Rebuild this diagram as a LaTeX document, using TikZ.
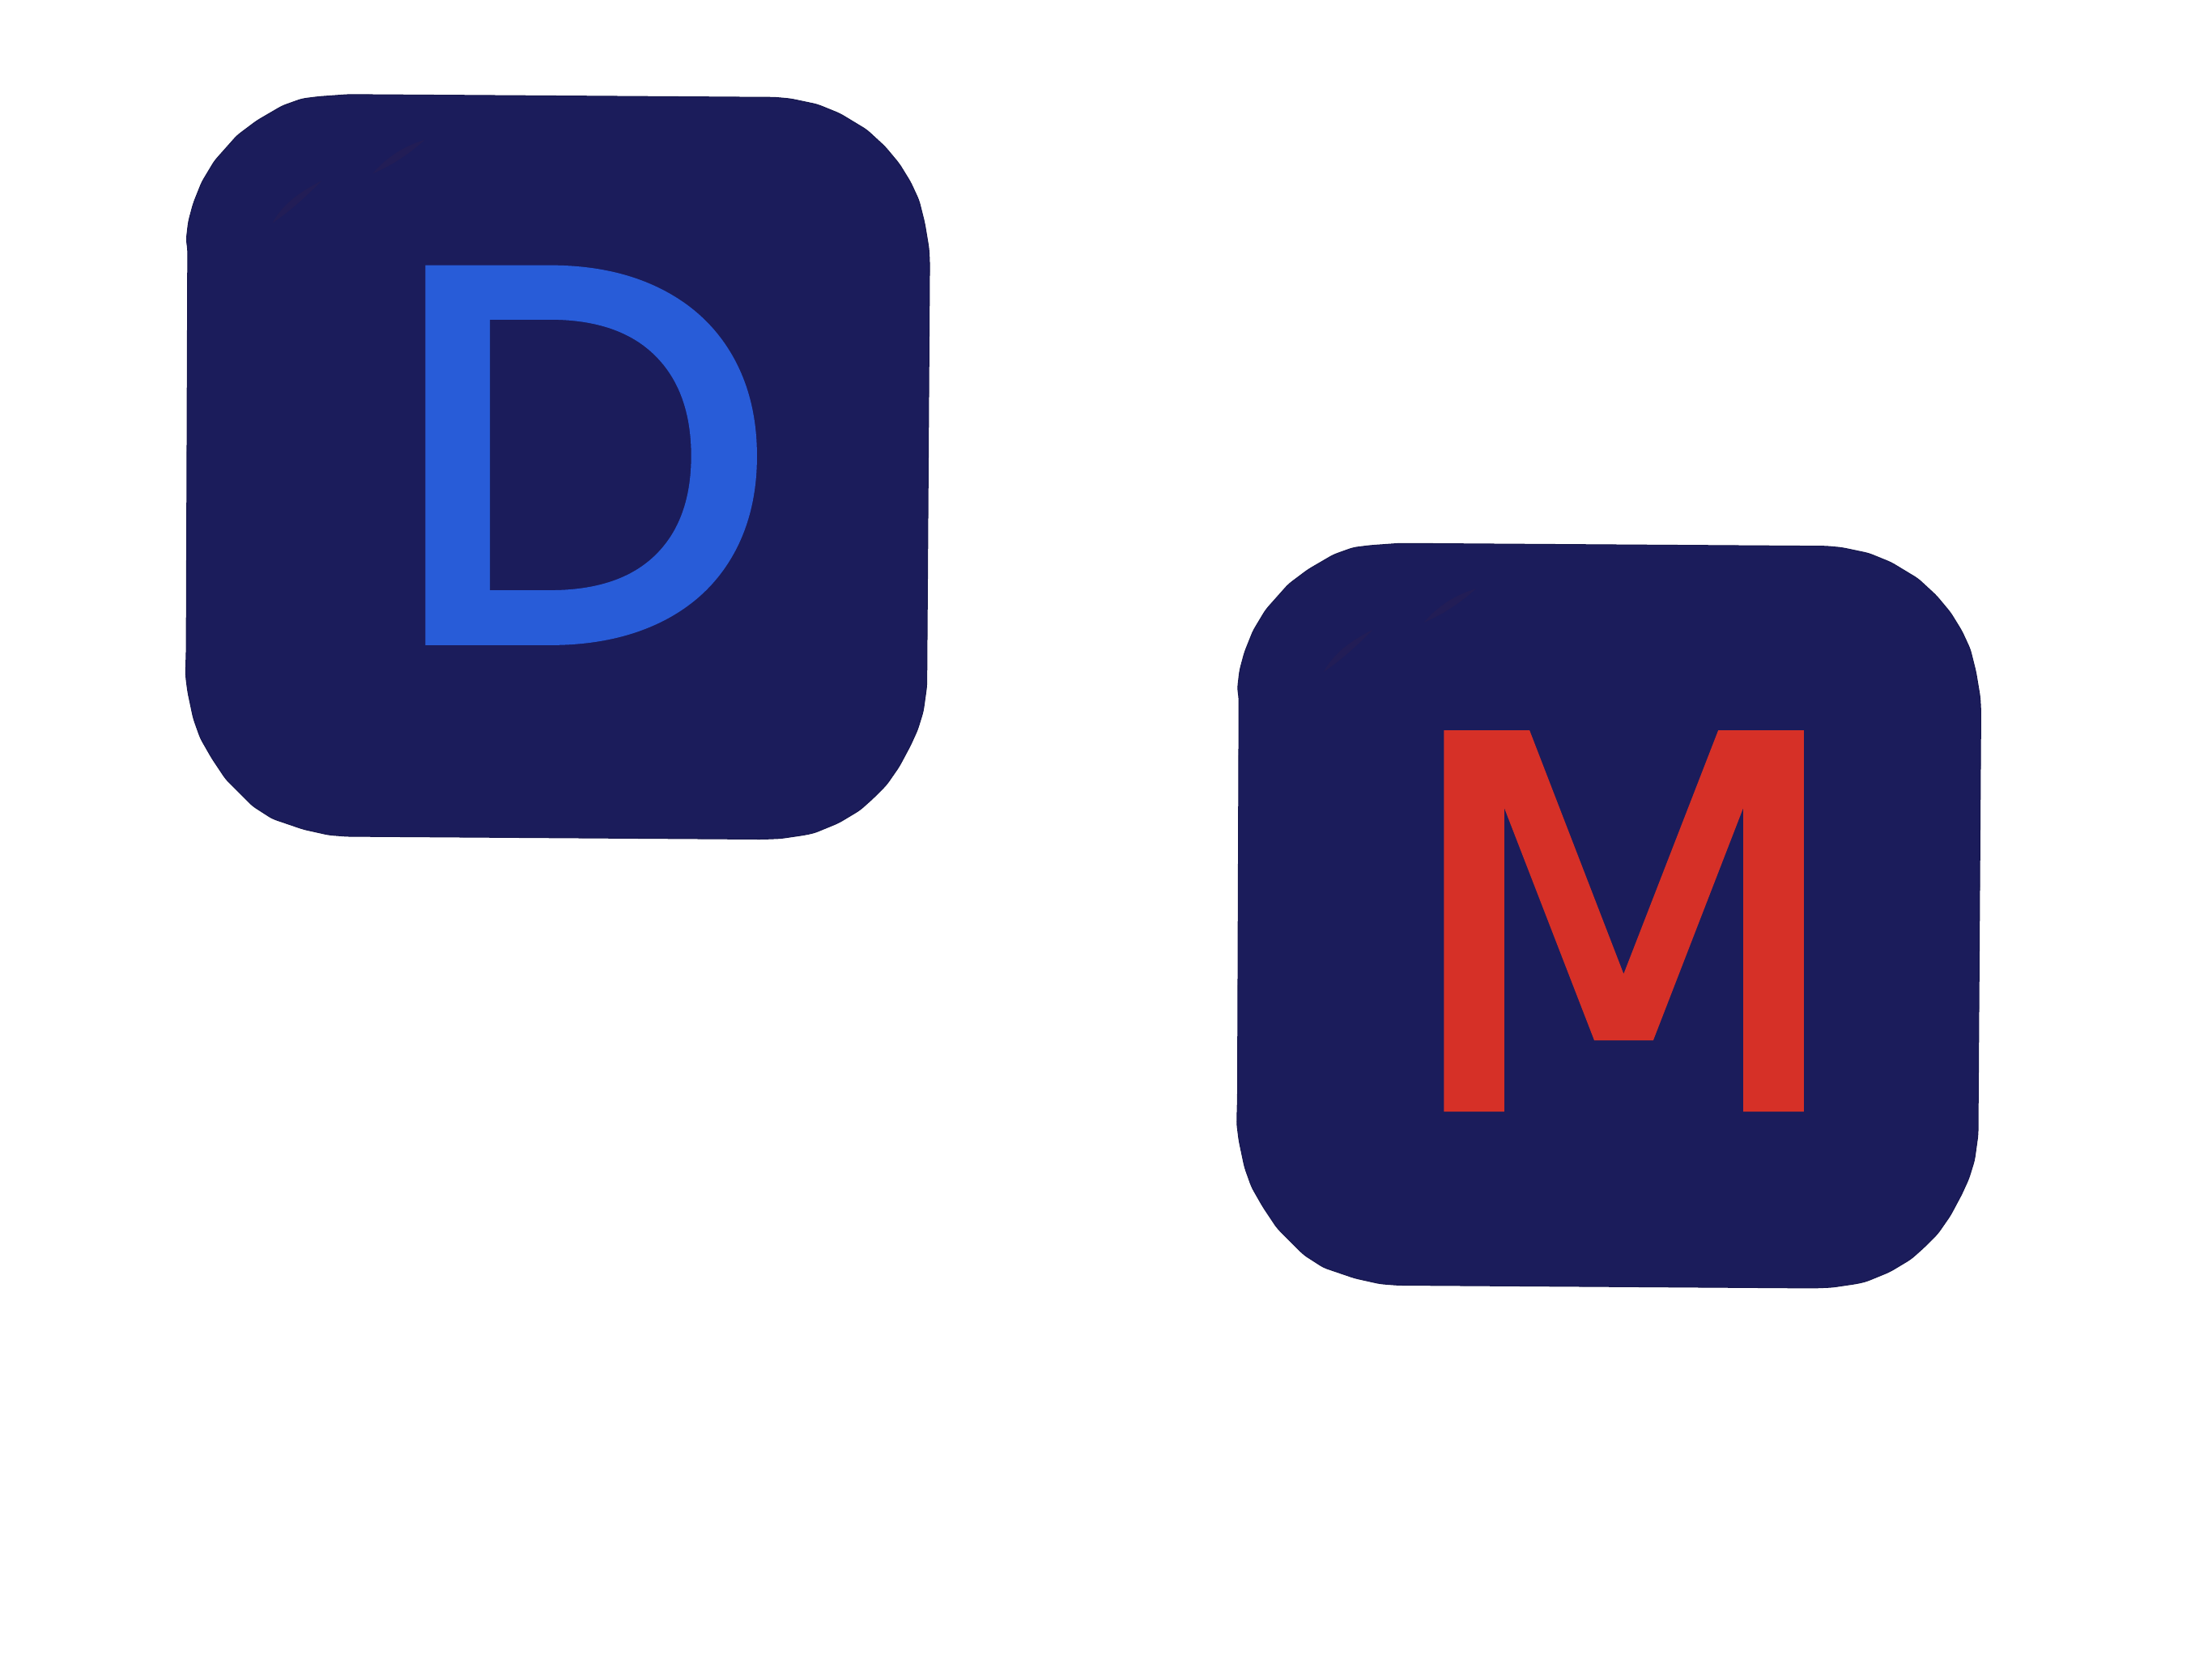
\documentclass[tikz,border=0pt]{standalone}
\usepackage{fontspec}
\newfontfamily\dfont[FakeBold=3,FakeStretch=1.03]{Poppins}
\newfontfamily\mfont[FakeBold=2,FakeStretch=1.03]{DejaVu Sans}
\definecolor{tilebg}{HTML}{1B1C5B}
\definecolor{tilemark}{HTML}{221D56}
\definecolor{dblue}{HTML}{285CD8}
\definecolor{mred}{HTML}{D63027}
\tikzset{
  tile/.style={fill=tilebg,draw=tilebg!85!black,line width=0.3pt,line join=round,rounded corners=1.5pt},
  glyph/.style={inner sep=0pt,outer sep=0pt,anchor=base west},
  streak/.style={fill=tilemark,draw=none}
}
\newcommand{\tileoutline}{(247,67) -- (549,69) -- (560,70) -- (579,74) -- (595,80.5) -- (614,92) -- (627,104) -- (637,116) -- (645,129) -- (651,142) -- (655,158) -- (658,176) -- (658.5,186) -- (656.5,486) -- (654,504) -- (650,517) -- (645,528) -- (637,543) -- (628,556) -- (618,566) -- (609,574) -- (594,583) -- (577,590) -- (570,591.5) -- (553,594) -- (540,594.5) -- (246,592.5) -- (233,591.5) -- (215,587.5) -- (193,580) -- (179,571) -- (160,552) -- (150,537) -- (142,523) -- (137,509) -- (133,490) -- (131.5,478) -- (132,460) -- (133,176) -- (132,170) -- (133.5,157) -- (137,144) -- (143,129) -- (152,114) -- (168,96) -- (182,85.5) -- (200,75) -- (214,70) -- (226,68.5) -- cycle}
\newcommand{\tilestreak}{(264,123) .. controls (275,110) and (288,103) .. (301,99) .. controls (290,109) and (278,117) .. (264,123) -- cycle (193,158) .. controls (200,145) and (212,136) .. (228,128) .. controls (216,140) and (205,150) .. (193,158) -- cycle}
\begin{document}
\begin{tikzpicture}[x=0.017435cm,y=-0.017435cm]
\useasboundingbox (0,0) rectangle (1567,1174.6);
\fill[white] (0,0) rectangle (1567,1174.6);
\begin{scope}
  \path[tile] \tileoutline;
  \path[streak] \tilestreak;
\end{scope}
\begin{scope}[shift={(744.7,318)}]
  \path[tile] \tileoutline;
  \path[streak] \tilestreak;
\end{scope}
\node[glyph,text=dblue,font=\dfont\fontsize{183.7}{184}\selectfont] (letterD) at (277.5,451.5) {D};
\node[glyph,text=mred,font=\mfont\fontsize{179}{179}\selectfont] (letterM) at (990,784) {M};
\end{tikzpicture}
\end{document}
